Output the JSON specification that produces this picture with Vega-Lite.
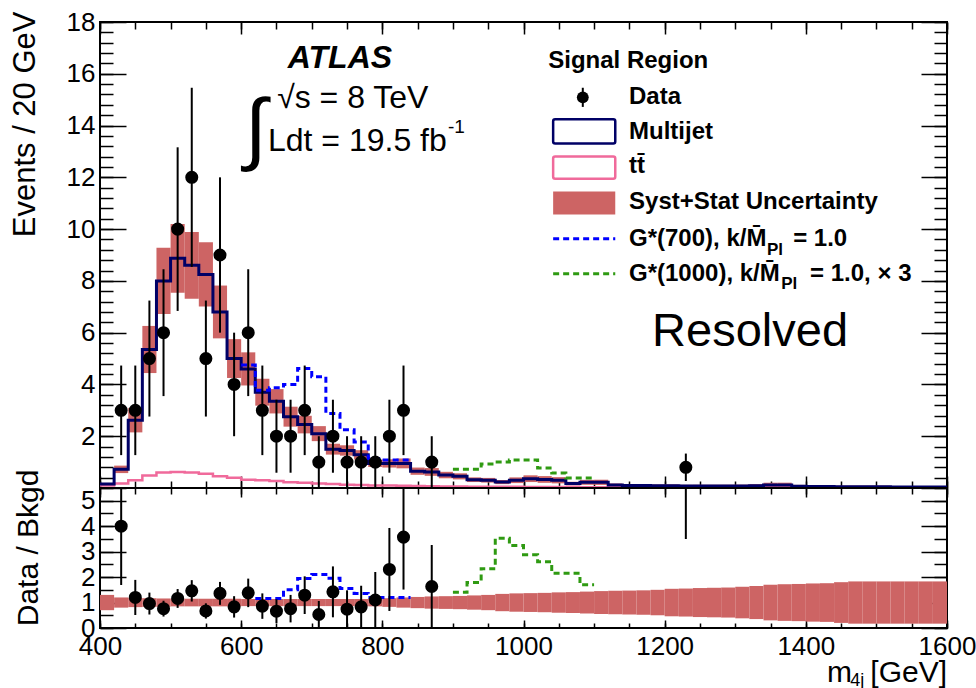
{
"$schema": "https://vega.github.io/schema/vega-lite/v6.json",
"background": "white",
"padding": {"left": 7, "top": 8, "right": 0, "bottom": 0},
"spacing": 0,
"bounds": "flush",
"config": {
 "view": {"stroke": "black", "strokeWidth": 2},
 "axis": {"grid": false, "domain": false, "labelFont": "Liberation Sans", "labelFontSize": 26, "labelColor": "black", "titleFont": "Liberation Sans", "titleFontSize": 30, "titleFontWeight": "normal", "titleColor": "black", "tickColor": "black", "tickWidth": 1.5, "labelFlush": false, "labelOverlap": false},
 "text": {"font": "Liberation Sans", "color": "black"}
},
"datasets": {
 "bins": [
  {"a":400,"b":420,"mj":0.15,"tt":0.10,"blo":0.105,"bhi":0.195,"rlo":0.70,"rhi":1.30},
  {"a":420,"b":440,"mj":0.72,"tt":0.17,"blo":0.576,"bhi":0.864,"rlo":0.80,"rhi":1.20},
  {"a":440,"b":460,"mj":2.62,"tt":0.30,"blo":2.148,"bhi":3.092,"rlo":0.82,"rhi":1.18},
  {"a":460,"b":480,"mj":5.35,"tt":0.48,"blo":4.44,"bhi":6.26,"rlo":0.83,"rhi":1.17},
  {"a":480,"b":500,"mj":8.0,"tt":0.60,"blo":6.72,"bhi":9.28,"rlo":0.84,"rhi":1.16},
  {"a":500,"b":520,"mj":8.87,"tt":0.62,"blo":7.54,"bhi":10.2,"rlo":0.85,"rhi":1.15},
  {"a":520,"b":540,"mj":8.6,"tt":0.60,"blo":7.31,"bhi":9.89,"rlo":0.85,"rhi":1.15},
  {"a":540,"b":560,"mj":8.25,"tt":0.55,"blo":7.01,"bhi":9.49,"rlo":0.85,"rhi":1.15},
  {"a":560,"b":580,"mj":6.8,"tt":0.45,"blo":5.78,"bhi":7.82,"rlo":0.85,"rhi":1.15},
  {"a":580,"b":600,"mj":5.0,"tt":0.40,"blo":4.25,"bhi":5.75,"rlo":0.85,"rhi":1.15},
  {"a":600,"b":620,"mj":4.6,"tt":0.32,"blo":3.96,"bhi":5.24,"rlo":0.86,"rhi":1.14},
  {"a":620,"b":640,"mj":3.7,"tt":0.30,"blo":3.18,"bhi":4.22,"rlo":0.86,"rhi":1.14},
  {"a":640,"b":660,"mj":3.35,"tt":0.27,"blo":2.88,"bhi":3.82,"rlo":0.86,"rhi":1.14},
  {"a":660,"b":680,"mj":2.75,"tt":0.22,"blo":2.37,"bhi":3.14,"rlo":0.86,"rhi":1.14},
  {"a":680,"b":700,"mj":2.45,"tt":0.20,"blo":2.11,"bhi":2.79,"rlo":0.86,"rhi":1.14},
  {"a":700,"b":720,"mj":2.1,"tt":0.17,"blo":1.81,"bhi":2.39,"rlo":0.86,"rhi":1.14},
  {"a":720,"b":740,"mj":1.5,"tt":0.15,"blo":1.29,"bhi":1.71,"rlo":0.86,"rhi":1.14},
  {"a":740,"b":760,"mj":1.45,"tt":0.13,"blo":1.25,"bhi":1.65,"rlo":0.86,"rhi":1.14},
  {"a":760,"b":780,"mj":1.28,"tt":0.12,"blo":1.10,"bhi":1.46,"rlo":0.86,"rhi":1.14},
  {"a":780,"b":800,"mj":0.95,"tt":0.10,"blo":0.81,"bhi":1.09,"rlo":0.85,"rhi":1.15},
  {"a":800,"b":820,"mj":0.95,"tt":0.10,"blo":0.79,"bhi":1.11,"rlo":0.83,"rhi":1.17},
  {"a":820,"b":840,"mj":0.95,"tt":0.09,"blo":0.76,"bhi":1.14,"rlo":0.80,"rhi":1.20},
  {"a":840,"b":860,"mj":0.65,"tt":0.08,"blo":0.51,"bhi":0.79,"rlo":0.78,"rhi":1.22},
  {"a":860,"b":880,"mj":0.62,"tt":0.07,"blo":0.47,"bhi":0.77,"rlo":0.76,"rhi":1.24},
  {"a":880,"b":900,"mj":0.5,"tt":0.06,"blo":0.375,"bhi":0.625,"rlo":0.75,"rhi":1.25},
  {"a":900,"b":920,"mj":0.45,"tt":0.06,"blo":0.333,"bhi":0.567,"rlo":0.74,"rhi":1.26},
  {"a":920,"b":940,"mj":0.32,"tt":0.05,"blo":0.23,"bhi":0.41,"rlo":0.72,"rhi":1.28},
  {"a":940,"b":960,"mj":0.3,"tt":0.05,"blo":0.21,"bhi":0.39,"rlo":0.70,"rhi":1.30},
  {"a":960,"b":980,"mj":0.23,"tt":0.05,"blo":0.15,"bhi":0.31,"rlo":0.66,"rhi":1.34},
  {"a":980,"b":1000,"mj":0.3,"tt":0.05,"blo":0.19,"bhi":0.41,"rlo":0.64,"rhi":1.36},
  {"a":1000,"b":1020,"mj":0.36,"tt":0.04,"blo":0.23,"bhi":0.49,"rlo":0.63,"rhi":1.37},
  {"a":1020,"b":1040,"mj":0.33,"tt":0.04,"blo":0.20,"bhi":0.46,"rlo":0.62,"rhi":1.38},
  {"a":1040,"b":1060,"mj":0.3,"tt":0.04,"blo":0.18,"bhi":0.42,"rlo":0.60,"rhi":1.40},
  {"a":1060,"b":1080,"mj":0.17,"tt":0.04,"blo":0.10,"bhi":0.24,"rlo":0.59,"rhi":1.41},
  {"a":1080,"b":1100,"mj":0.22,"tt":0.03,"blo":0.125,"bhi":0.315,"rlo":0.57,"rhi":1.43},
  {"a":1100,"b":1120,"mj":0.22,"tt":0.03,"blo":0.12,"bhi":0.32,"rlo":0.55,"rhi":1.45},
  {"a":1120,"b":1140,"mj":0.12,"tt":0.03,"blo":0.065,"bhi":0.175,"rlo":0.54,"rhi":1.46},
  {"a":1140,"b":1160,"mj":0.1,"tt":0.03,"blo":0.053,"bhi":0.147,"rlo":0.53,"rhi":1.47},
  {"a":1160,"b":1180,"mj":0.1,"tt":0.03,"blo":0.052,"bhi":0.148,"rlo":0.52,"rhi":1.48},
  {"a":1180,"b":1200,"mj":0.09,"tt":0.03,"blo":0.045,"bhi":0.135,"rlo":0.50,"rhi":1.50},
  {"a":1200,"b":1220,"mj":0.09,"tt":0.02,"blo":0.041,"bhi":0.139,"rlo":0.46,"rhi":1.54},
  {"a":1220,"b":1240,"mj":0.08,"tt":0.02,"blo":0.036,"bhi":0.124,"rlo":0.45,"rhi":1.55},
  {"a":1240,"b":1260,"mj":0.08,"tt":0.02,"blo":0.034,"bhi":0.126,"rlo":0.43,"rhi":1.57},
  {"a":1260,"b":1280,"mj":0.08,"tt":0.02,"blo":0.034,"bhi":0.126,"rlo":0.42,"rhi":1.58},
  {"a":1280,"b":1300,"mj":0.08,"tt":0.02,"blo":0.033,"bhi":0.127,"rlo":0.41,"rhi":1.59},
  {"a":1300,"b":1320,"mj":0.08,"tt":0.02,"blo":0.03,"bhi":0.13,"rlo":0.38,"rhi":1.62},
  {"a":1320,"b":1340,"mj":0.09,"tt":0.02,"blo":0.032,"bhi":0.149,"rlo":0.35,"rhi":1.65},
  {"a":1340,"b":1360,"mj":0.12,"tt":0.02,"blo":0.036,"bhi":0.204,"rlo":0.30,"rhi":1.70},
  {"a":1360,"b":1380,"mj":0.12,"tt":0.02,"blo":0.034,"bhi":0.206,"rlo":0.28,"rhi":1.72},
  {"a":1380,"b":1400,"mj":0.07,"tt":0.02,"blo":0.019,"bhi":0.121,"rlo":0.27,"rhi":1.73},
  {"a":1400,"b":1420,"mj":0.06,"tt":0.02,"blo":0.015,"bhi":0.105,"rlo":0.25,"rhi":1.75},
  {"a":1420,"b":1440,"mj":0.06,"tt":0.02,"blo":0.014,"bhi":0.106,"rlo":0.24,"rhi":1.76},
  {"a":1440,"b":1460,"mj":0.05,"tt":0.02,"blo":0.01,"bhi":0.09,"rlo":0.20,"rhi":1.80},
  {"a":1460,"b":1480,"mj":0.05,"tt":0.02,"blo":0.009,"bhi":0.092,"rlo":0.17,"rhi":1.83},
  {"a":1480,"b":1500,"mj":0.05,"tt":0.01,"blo":0.009,"bhi":0.092,"rlo":0.17,"rhi":1.83},
  {"a":1500,"b":1520,"mj":0.05,"tt":0.01,"blo":0.009,"bhi":0.092,"rlo":0.17,"rhi":1.83},
  {"a":1520,"b":1540,"mj":0.04,"tt":0.01,"blo":0.007,"bhi":0.073,"rlo":0.17,"rhi":1.83},
  {"a":1540,"b":1560,"mj":0.04,"tt":0.01,"blo":0.007,"bhi":0.073,"rlo":0.17,"rhi":1.83},
  {"a":1560,"b":1580,"mj":0.04,"tt":0.01,"blo":0.007,"bhi":0.073,"rlo":0.17,"rhi":1.83},
  {"a":1580,"b":1600,"mj":0.04,"tt":0.01,"blo":0.007,"bhi":0.073,"rlo":0.17,"rhi":1.83},
  {"a":1600,"b":1600,"mj":0.04,"tt":0.01,"blo":0.007,"bhi":0.007,"rlo":0.17,"rhi":0.17}
 ],
 "obs": [
  {"x":430,"n":3,"lo":1.27,"hi":4.73,"r":4.0,"rlo":1.69,"rhi":6.31},
  {"x":450,"n":3,"lo":1.27,"hi":4.73,"r":1.2,"rlo":0.51,"rhi":1.89},
  {"x":470,"n":5,"lo":2.76,"hi":7.24,"r":0.96,"rlo":0.53,"rhi":1.39},
  {"x":490,"n":6,"lo":3.55,"hi":8.45,"r":0.76,"rlo":0.45,"rhi":1.07},
  {"x":510,"n":10,"lo":6.84,"hi":13.16,"r":1.16,"rlo":0.79,"rhi":1.53},
  {"x":530,"n":12,"lo":8.54,"hi":15.46,"r":1.46,"rlo":1.04,"rhi":1.88},
  {"x":550,"n":5,"lo":2.76,"hi":7.24,"r":0.67,"rlo":0.37,"rhi":0.97},
  {"x":570,"n":9,"lo":6,"hi":12,"r":1.36,"rlo":0.91,"rhi":1.81},
  {"x":590,"n":4,"lo":2,"hi":6,"r":0.83,"rlo":0.41,"rhi":1.25},
  {"x":610,"n":6,"lo":3.55,"hi":8.45,"r":1.38,"rlo":0.82,"rhi":1.94},
  {"x":630,"n":3,"lo":1.27,"hi":4.73,"r":0.86,"rlo":0.36,"rhi":1.36},
  {"x":650,"n":2,"lo":0.59,"hi":3.41,"r":0.66,"rlo":0.19,"rhi":1.13},
  {"x":670,"n":2,"lo":0.59,"hi":3.41,"r":0.76,"rlo":0.22,"rhi":1.30},
  {"x":690,"n":3,"lo":1.27,"hi":4.73,"r":1.29,"rlo":0.55,"rhi":2.03},
  {"x":710,"n":1,"lo":0,"hi":2,"r":0.53,"rlo":0,"rhi":1.06},
  {"x":730,"n":2,"lo":0.59,"hi":3.41,"r":1.42,"rlo":0.42,"rhi":2.42},
  {"x":750,"n":1,"lo":0,"hi":2,"r":0.74,"rlo":0,"rhi":1.48},
  {"x":770,"n":1,"lo":0,"hi":2,"r":0.83,"rlo":0,"rhi":1.66},
  {"x":790,"n":1,"lo":0,"hi":2,"r":1.1,"rlo":0,"rhi":2.2},
  {"x":810,"n":2,"lo":0.59,"hi":3.41,"r":2.3,"rlo":0.67,"rhi":3.93},
  {"x":830,"n":3,"lo":1.27,"hi":4.73,"r":3.57,"rlo":1.51,"rhi":5.63},
  {"x":870,"n":1,"lo":0,"hi":2,"r":1.63,"rlo":0,"rhi":3.26},
  {"x":1230,"n":0.8,"lo":0.27,"hi":1.33,"r":10,"rlo":3.5,"rhi":16}
 ],
 "g700": [
  {"a":600,"v":4.75},{"a":620,"v":3.78},{"a":640,"v":3.87},{"a":660,"v":4.0},{"a":680,"v":4.62},{"a":700,"v":4.3},{"a":720,"v":2.88},{"a":740,"v":2.25},{"a":760,"v":1.78},{"a":780,"v":1.14},{"a":800,"v":1.08},{"a":820,"v":1.08},{"a":840,"v":1.08}
 ],
 "g1000": [
  {"a":900,"v":0.72},{"a":920,"v":0.72},{"a":940,"v":0.93},{"a":960,"v":1.0},{"a":980,"v":1.08},{"a":1000,"v":1.08},{"a":1020,"v":0.77},{"a":1040,"v":0.58},{"a":1060,"v":0.39},{"a":1080,"v":0.39},{"a":1100,"v":0.39}
 ],
 "g700r": [
  {"a":620,"v":1.16},{"a":640,"v":1.16},{"a":660,"v":1.5},{"a":680,"v":1.94},{"a":700,"v":2.1},{"a":720,"v":1.95},{"a":740,"v":1.55},{"a":760,"v":1.36},{"a":780,"v":1.2},{"a":800,"v":1.2},{"a":820,"v":1.2},{"a":840,"v":1.2}
 ],
 "g1000r": [
  {"a":900,"v":1.4},{"a":920,"v":1.79},{"a":940,"v":2.33},{"a":960,"v":3.53},{"a":980,"v":3.24},{"a":1000,"v":2.88},{"a":1020,"v":2.6},{"a":1040,"v":2.15},{"a":1060,"v":2.15},{"a":1080,"v":1.7},{"a":1100,"v":1.7}
 ]
},
"vconcat": [
 {
  "width": 847, "height": 466,
  "resolve": {"axis": {"x": "independent", "y": "independent"}},
  "layer": [
   {"data": {"name": "bins"}, "mark": {"type": "rect", "color": "#cd6464"},
    "encoding": {
     "x": {"field": "a", "type": "quantitative", "scale": {"domain": [400,1600], "nice": false, "zero": false},
       "axis": {"orient": "bottom", "values": [400,600,800,1000,1200,1400,1600], "tickSize": -12, "labels": false, "title": null}},
     "x2": {"field": "b"},
     "y": {"field": "blo", "type": "quantitative", "scale": {"domain": [0,18], "nice": false, "zero": false},
       "axis": {"orient": "left", "values": [2,4,6,8,10,12,14,16,18], "ticks": false, "labelPadding": 5, "title": "Events / 20 GeV", "titleFontSize": 31, "titleX": -66, "titleY": -11, "titleAlign": "right", "titleAnchor": "end", "titleBaseline": "alphabetic", "titleAngle": -90}},
     "y2": {"field": "bhi"}
    }},
   {"data": {"name": "bins"}, "mark": {"type": "line", "interpolate": "step-after", "color": "#f06a9b", "strokeWidth": 2.5},
    "encoding": {
     "x": {"field": "a", "type": "quantitative", "scale": {"domain": [400,1600], "nice": false, "zero": false},
       "axis": {"orient": "bottom", "values": [400,450,500,550,600,650,700,750,800,850,900,950,1000,1050,1100,1150,1200,1250,1300,1350,1400,1450,1500,1550,1600], "tickSize": -7, "labels": false, "title": null}},
     "y": {"field": "tt", "type": "quantitative", "scale": {"domain": [0,18], "nice": false, "zero": false},
       "axis": {"orient": "left", "values": [0,2,4,6,8,10,12,14,16,18], "tickSize": -26, "labels": false, "title": null}}
    }},
   {"data": {"name": "bins"}, "mark": {"type": "line", "interpolate": "step-after", "color": "#000066", "strokeWidth": 3},
    "encoding": {
     "x": {"field": "a", "type": "quantitative", "scale": {"domain": [400,1600], "nice": false, "zero": false},
       "axis": {"orient": "top", "values": [400,600,800,1000,1200,1400,1600], "tickSize": -12, "labels": false, "title": null}},
     "y": {"field": "mj", "type": "quantitative", "scale": {"domain": [0,18], "nice": false, "zero": false},
       "axis": {"orient": "left", "values": [0,0.4,0.8,1.2,1.6,2,2.4,2.8,3.2,3.6,4,4.4,4.8,5.2,5.6,6,6.4,6.8,7.2,7.6,8,8.4,8.8,9.2,9.6,10,10.4,10.8,11.2,11.6,12,12.4,12.8,13.2,13.6,14,14.4,14.8,15.2,15.6,16,16.4,16.8,17.2,17.6,18], "tickSize": -13, "labels": false, "title": null}}
    }},
   {"data": {"name": "g700"}, "mark": {"type": "line", "interpolate": "step-after", "color": "#0000ff", "strokeWidth": 3, "strokeDash": [6,4]},
    "encoding": {
     "x": {"field": "a", "type": "quantitative", "scale": {"domain": [400,1600], "nice": false, "zero": false},
       "axis": {"orient": "top", "values": [400,450,500,550,600,650,700,750,800,850,900,950,1000,1050,1100,1150,1200,1250,1300,1350,1400,1450,1500,1550,1600], "tickSize": -7, "labels": false, "title": null}},
     "y": {"field": "v", "type": "quantitative", "scale": {"domain": [0,18], "nice": false, "zero": false},
       "axis": {"orient": "right", "values": [0,2,4,6,8,10,12,14,16,18], "tickSize": -26, "labels": false, "title": null}}
    }},
   {"data": {"name": "g1000"}, "mark": {"type": "line", "interpolate": "step-after", "color": "#2f9a12", "strokeWidth": 3, "strokeDash": [6,4]},
    "encoding": {
     "x": {"field": "a", "type": "quantitative", "scale": {"domain": [400,1600], "nice": false, "zero": false}, "axis": null},
     "y": {"field": "v", "type": "quantitative", "scale": {"domain": [0,18], "nice": false, "zero": false},
       "axis": {"orient": "right", "values": [0,0.4,0.8,1.2,1.6,2,2.4,2.8,3.2,3.6,4,4.4,4.8,5.2,5.6,6,6.4,6.8,7.2,7.6,8,8.4,8.8,9.2,9.6,10,10.4,10.8,11.2,11.6,12,12.4,12.8,13.2,13.6,14,14.4,14.8,15.2,15.6,16,16.4,16.8,17.2,17.6,18], "tickSize": -13, "labels": false, "title": null}}
    }},
   {"data": {"name": "obs"}, "mark": {"type": "rule", "color": "black", "strokeWidth": 2},
    "encoding": {
     "x": {"field": "x", "type": "quantitative", "axis": null},
     "y": {"field": "lo", "type": "quantitative", "axis": null},
     "y2": {"field": "hi"}
    }},
   {"data": {"name": "obs"}, "mark": {"type": "point", "shape": "circle", "filled": true, "color": "black", "opacity": 1, "size": 170},
    "encoding": {
     "x": {"field": "x", "type": "quantitative", "axis": null},
     "y": {"field": "n", "type": "quantitative", "axis": null}
    }},
   {"data": {"values": [{"x": 1042, "x2": 1130, "y": 13.31, "y2": 14.24}]}, "mark": {"type": "rect", "fill": "white", "stroke": "#000066", "strokeWidth": 2.5, "cornerRadius": 2},
    "encoding": {"x": {"field": "x", "type": "quantitative", "axis": null}, "x2": {"field": "x2"}, "y": {"field": "y", "type": "quantitative", "axis": null}, "y2": {"field": "y2"}}},
   {"data": {"values": [{"x": 1042, "x2": 1130, "y": 11.95, "y2": 12.8}]}, "mark": {"type": "rect", "fill": "white", "stroke": "#f06a9b", "strokeWidth": 2.5, "cornerRadius": 2},
    "encoding": {"x": {"field": "x", "type": "quantitative", "axis": null}, "x2": {"field": "x2"}, "y": {"field": "y", "type": "quantitative", "axis": null}, "y2": {"field": "y2"}}},
   {"data": {"values": [{"x": 1042, "x2": 1130, "y": 10.56, "y2": 11.45}]}, "mark": {"type": "rect", "color": "#cd6464"},
    "encoding": {"x": {"field": "x", "type": "quantitative", "axis": null}, "x2": {"field": "x2"}, "y": {"field": "y", "type": "quantitative", "axis": null}, "y2": {"field": "y2"}}},
   {"data": {"values": [{"x": 1042, "x2": 1130, "y": 9.63}]}, "mark": {"type": "rule", "color": "#0000ff", "strokeWidth": 3, "strokeDash": [6,4]},
    "encoding": {"x": {"field": "x", "type": "quantitative", "axis": null}, "x2": {"field": "x2"}, "y": {"field": "y", "type": "quantitative", "axis": null}}},
   {"data": {"values": [{"x": 1042, "x2": 1130, "y": 8.28}]}, "mark": {"type": "rule", "color": "#2f9a12", "strokeWidth": 3, "strokeDash": [6,4]},
    "encoding": {"x": {"field": "x", "type": "quantitative", "axis": null}, "x2": {"field": "x2"}, "y": {"field": "y", "type": "quantitative", "axis": null}}},
   {"data": {"values": [{"x": 1084, "y": 14.72, "y2": 15.46}]}, "mark": {"type": "rule", "color": "black", "strokeWidth": 2},
    "encoding": {"x": {"field": "x", "type": "quantitative", "axis": null}, "y": {"field": "y", "type": "quantitative", "axis": null}, "y2": {"field": "y2"}}},
   {"data": {"values": [{"x": 1084, "y": 15.09}]}, "mark": {"type": "point", "shape": "circle", "filled": true, "color": "black", "opacity": 1, "size": 140},
    "encoding": {"x": {"field": "x", "type": "quantitative", "axis": null}, "y": {"field": "y", "type": "quantitative", "axis": null}}},
   {"data": {"values": [
      {"x": 1035, "y": 16.48, "t": "Signal Region"},
      {"x": 1149.5, "y": 15.09, "t": "Data"},
      {"x": 1149.5, "y": 13.77, "t": "Multijet"},
      {"x": 1149.5, "y": 12.42, "t": "tt\u0304"},
      {"x": 1149.5, "y": 11.03, "t": "Syst+Stat Uncertainty"},
      {"x": 1149.5, "y": 9.63, "t": "G*(700), k/M\u0304"},
      {"x": 1382, "y": 9.63, "t": "= 1.0"},
      {"x": 1149.5, "y": 8.28, "t": "G*(1000), k/M\u0304"},
      {"x": 1406, "y": 8.28, "t": "= 1.0, \u00d7 3"}
    ]}, "mark": {"type": "text", "align": "left", "baseline": "middle", "fontSize": 24, "fontWeight": "bold"},
    "encoding": {"x": {"field": "x", "type": "quantitative", "axis": null}, "y": {"field": "y", "type": "quantitative", "axis": null}, "text": {"field": "t"}}},
   {"data": {"values": [
      {"x": 1345, "y": 9.2, "t": "Pl"},
      {"x": 1365, "y": 7.87, "t": "Pl"}
    ]}, "mark": {"type": "text", "align": "left", "baseline": "middle", "fontSize": 17, "fontWeight": "bold"},
    "encoding": {"x": {"field": "x", "type": "quantitative", "axis": null}, "y": {"field": "y", "type": "quantitative", "axis": null}, "text": {"field": "t"}}},
   {"data": {"values": [{"x": 740, "y": 16.6, "t": "ATLAS"}]}, "mark": {"type": "text", "align": "center", "baseline": "middle", "fontSize": 32, "fontWeight": "bold", "fontStyle": "italic"},
    "encoding": {"x": {"field": "x", "type": "quantitative", "axis": null}, "y": {"field": "y", "type": "quantitative", "axis": null}, "text": {"field": "t"}}},
   {"data": {"values": [
      {"x": 651, "y": 15.05, "t": "\u221as = 8 TeV"},
      {"x": 638, "y": 13.4, "t": "Ldt = 19.5 fb"}
    ]}, "mark": {"type": "text", "align": "left", "baseline": "middle", "fontSize": 32},
    "encoding": {"x": {"field": "x", "type": "quantitative", "axis": null}, "y": {"field": "y", "type": "quantitative", "axis": null}, "text": {"field": "t"}}},
   {"data": {"values": [{"x": 893, "y": 13.95, "t": "-1"}]}, "mark": {"type": "text", "align": "left", "baseline": "middle", "fontSize": 19},
    "encoding": {"x": {"field": "x", "type": "quantitative", "axis": null}, "y": {"field": "y", "type": "quantitative", "axis": null}, "text": {"field": "t"}}},
   {"data": {"values": [{"x": 621, "y": 13.8, "t": "\u222b"}]}, "mark": {"type": "text", "align": "center", "baseline": "middle", "fontSize": 80},
    "encoding": {"x": {"field": "x", "type": "quantitative", "axis": null}, "y": {"field": "y", "type": "quantitative", "axis": null}, "text": {"field": "t"}}},
   {"data": {"values": [{"x": 1321, "y": 6.03, "t": "Resolved"}]}, "mark": {"type": "text", "align": "center", "baseline": "middle", "fontSize": 47},
    "encoding": {"x": {"field": "x", "type": "quantitative", "axis": null}, "y": {"field": "y", "type": "quantitative", "axis": null}, "text": {"field": "t"}}}
  ]
 },
 {
  "width": 847, "height": 140,
  "resolve": {"axis": {"x": "independent", "y": "independent"}},
  "layer": [
   {"data": {"name": "bins"}, "mark": {"type": "rect", "color": "#cd6464"},
    "encoding": {
     "x": {"field": "a", "type": "quantitative", "scale": {"domain": [400,1600], "nice": false, "zero": false},
       "axis": {"orient": "bottom", "values": [400,600,800,1000,1200,1400,1600], "format": "d", "ticks": false, "labelPadding": 5, "title": null}},
     "x2": {"field": "b"},
     "y": {"field": "rlo", "type": "quantitative", "scale": {"domain": [0,5.5], "nice": false, "zero": false},
       "axis": {"orient": "left", "values": [0,1,2,3,4,5], "ticks": false, "labelPadding": 5, "title": "Data / Bkgd", "titleX": -63, "titleY": -19, "titleAlign": "right", "titleAnchor": "end", "titleBaseline": "alphabetic", "titleAngle": -90}},
     "y2": {"field": "rhi"}
    }},
   {"mark": {"type": "rule", "color": "black", "strokeWidth": 1.5, "strokeDash": [6,5]},
    "encoding": {
     "y": {"datum": 1, "type": "quantitative", "scale": {"domain": [0,5.5], "nice": false, "zero": false},
       "axis": {"orient": "left", "values": [0,1,2,3,4,5], "tickSize": -26, "labels": false, "title": null}}
    }},
   {"data": {"name": "g700r"}, "mark": {"type": "line", "interpolate": "step-after", "color": "#0000ff", "strokeWidth": 3, "strokeDash": [6,4]},
    "encoding": {
     "x": {"field": "a", "type": "quantitative", "scale": {"domain": [400,1600], "nice": false, "zero": false},
       "axis": {"orient": "bottom", "values": [400,600,800,1000,1200,1400,1600], "tickSize": -8, "labels": false, "title": null}},
     "y": {"field": "v", "type": "quantitative", "scale": {"domain": [0,5.5], "nice": false, "zero": false},
       "axis": {"orient": "left", "values": [0,0.5,1,1.5,2,2.5,3,3.5,4,4.5,5], "tickSize": -13, "labels": false, "title": null}}
    }},
   {"data": {"name": "g1000r"}, "mark": {"type": "line", "interpolate": "step-after", "color": "#2f9a12", "strokeWidth": 3, "strokeDash": [6,4]},
    "encoding": {
     "x": {"field": "a", "type": "quantitative", "scale": {"domain": [400,1600], "nice": false, "zero": false},
       "axis": {"orient": "bottom", "values": [400,450,500,550,600,650,700,750,800,850,900,950,1000,1050,1100,1150,1200,1250,1300,1350,1400,1450,1500,1550,1600], "tickSize": -5, "labels": false, "title": null}},
     "y": {"field": "v", "type": "quantitative", "scale": {"domain": [0,5.5], "nice": false, "zero": false},
       "axis": {"orient": "right", "values": [0,1,2,3,4,5], "tickSize": -26, "labels": false, "title": null}}
    }},
   {"data": {"name": "obs"}, "mark": {"type": "rule", "color": "black", "strokeWidth": 2, "clip": true},
    "encoding": {
     "x": {"field": "x", "type": "quantitative", "scale": {"domain": [400,1600], "nice": false, "zero": false},
       "axis": {"orient": "top", "values": [400,600,800,1000,1200,1400,1600], "tickSize": -9, "labels": false, "title": null}},
     "y": {"field": "rlo", "type": "quantitative", "scale": {"domain": [0,5.5], "nice": false, "zero": false},
       "axis": {"orient": "right", "values": [0,0.5,1,1.5,2,2.5,3,3.5,4,4.5,5], "tickSize": -13, "labels": false, "title": null}},
     "y2": {"field": "rhi"}
    }},
   {"data": {"name": "obs"}, "mark": {"type": "point", "shape": "circle", "filled": true, "color": "black", "opacity": 1, "size": 170, "clip": true},
    "encoding": {
     "x": {"field": "x", "type": "quantitative", "scale": {"domain": [400,1600], "nice": false, "zero": false},
       "axis": {"orient": "top", "values": [400,450,500,550,600,650,700,750,800,850,900,950,1000,1050,1100,1150,1200,1250,1300,1350,1400,1450,1500,1550,1600], "tickSize": -6, "labels": false, "title": null}},
     "y": {"field": "r", "type": "quantitative", "axis": null}
    }},
   {"data": {"values": [{"x": 1430, "y": -2.12, "t": "m"}]}, "mark": {"type": "text", "align": "left", "baseline": "alphabetic", "fontSize": 30},
    "encoding": {"x": {"field": "x", "type": "quantitative", "axis": null}, "y": {"field": "y", "type": "quantitative", "axis": null}, "text": {"field": "t"}}},
   {"data": {"values": [{"x": 1463, "y": -2.28, "t": "4j"}]}, "mark": {"type": "text", "align": "left", "baseline": "alphabetic", "fontSize": 18},
    "encoding": {"x": {"field": "x", "type": "quantitative", "axis": null}, "y": {"field": "y", "type": "quantitative", "axis": null}, "text": {"field": "t"}}},
   {"data": {"values": [{"x": 1600, "y": -2.12, "t": "[GeV]"}]}, "mark": {"type": "text", "align": "right", "baseline": "alphabetic", "fontSize": 30},
    "encoding": {"x": {"field": "x", "type": "quantitative", "axis": null}, "y": {"field": "y", "type": "quantitative", "axis": null}, "text": {"field": "t"}}}
  ]
 }
]
}
